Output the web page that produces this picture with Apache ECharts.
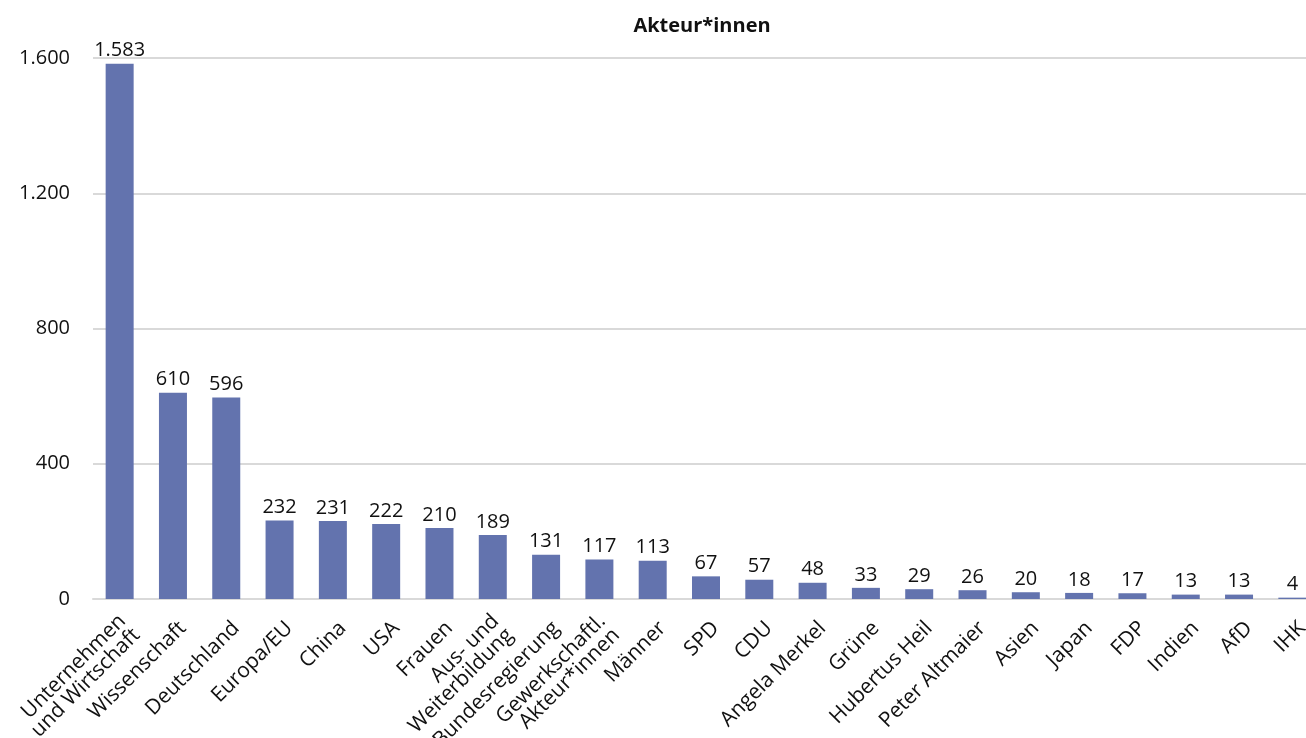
<!DOCTYPE html>
<html>
<head>
<meta charset="utf-8">
<script src="https://cdn.jsdelivr.net/npm/echarts@6/dist/echarts.min.js"></script>
<style>
  html, body { margin: 0; padding: 0; background: #fff; }
  #chart { width: 1306px; height: 738px; }
</style>
</head>
<body>
<div id="chart"></div>
<script>
const categories = [
  'Unternehmen\nund Wirtschaft', 'Wissenschaft', 'Deutschland', 'Europa/EU', 'China', 'USA',
  'Frauen', 'Aus- und\nWeiterbildung', 'Bundesregierung', 'Gewerkschaftl.\nAkteur*innen',
  'Männer', 'SPD', 'CDU', 'Angela Merkel', 'Grüne', 'Hubertus Heil', 'Peter Altmaier',
  'Asien', 'Japan', 'FDP', 'Indien', 'AfD', 'IHK'
]
const values = [1583, 610, 596, 232, 231, 222, 210, 189, 131, 117, 113, 67, 57, 48, 33, 29, 26, 20, 18, 17, 13, 13, 4]
const yTicks = [0, 400, 800, 1200, 1600]

const fontFamily = '"Open Sans", "Noto Sans", sans-serif'
const barColor = '#6373ae'

// German thousands separator
const fmt = (v) => String(v).replace(/\B(?=(\d{3})+(?!\d))/g, '.')

const chart = echarts.init(document.getElementById('chart'))

const option = {
  animation: false,
  title: {
    text: 'Akteur*innen',
    left: 697,
    top: 11,
    textAlign: 'center',
    textStyle: {
      fontFamily: fontFamily,
      fontSize: 20,
      fontWeight: 'bold',
      color: '#111',
    },
  },
  grid: {
    left: 93,
    right: -13,
    top: 58,
    bottom: 139,
    outerBoundsMode: 'none',
  },
  xAxis: {
    type: 'category',
    data: categories,
    axisLine: {
      lineStyle: { color: '#d9d9d9', width: 2 },
    },
    axisTick: { show: false },
    axisLabel: {
      interval: 0,
      rotate: 45,
      margin: 16,
      verticalAlign: 'middle',
      color: '#111',
      fontFamily: fontFamily,
      fontSize: 21,
      lineHeight: 20,
      // an invisible spacer line pushes the rotated text down-right of the tick
      formatter: (v) => '{s| }\n' + v,
      rich: {
        s: { fontSize: 1, lineHeight: 28 },
      },
    },
  },
  yAxis: {
    type: 'value',
    min: yTicks[0],
    max: yTicks[yTicks.length - 1],
    interval: yTicks[1] - yTicks[0],
    axisLine: { show: false },
    axisTick: { show: false },
    splitLine: {
      lineStyle: { color: '#d9d9d9', width: 2 },
    },
    axisLabel: {
      margin: 23,
      color: '#111',
      fontFamily: fontFamily,
      fontSize: 20,
      formatter: fmt,
    },
  },
  series: [
    {
      type: 'bar',
      data: values,
      barWidth: 28,
      itemStyle: { color: barColor },
      label: {
        show: true,
        position: 'top',
        distance: 3,
        color: '#111',
        fontFamily: fontFamily,
        fontSize: 20,
        formatter: (p) => fmt(p.value),
      },
    },
  ],
}

chart.setOption(option)
</script>
</body>
</html>
